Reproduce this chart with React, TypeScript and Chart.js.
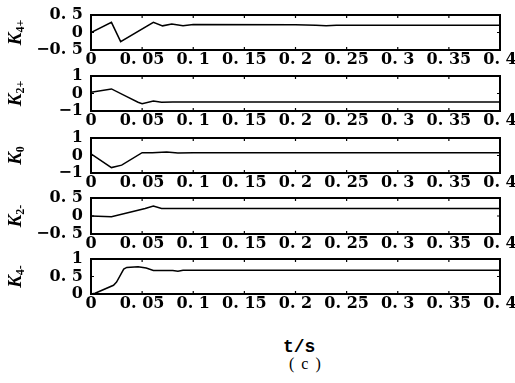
import React, { useEffect, useRef } from "react";
import { Chart, registerables } from "chart.js";

Chart.register(...registerables);

// ---- data ----
const xTickValues = [0, 0.05, 0.1, 0.15, 0.2, 0.25, 0.3, 0.35, 0.4];
const xTickLabels = ["0", "0. 05", "0. 1", "0. 15", "0. 2", "0. 25", "0. 3", "0. 35", "0. 4"];

const tK4p = [0, 0.02, 0.029, 0.061, 0.07, 0.079, 0.09, 0.1, 0.2, 0.22, 0.23, 0.24, 0.4];
const vK4p = [0.0, 0.29, -0.26, 0.29, 0.19, 0.24, 0.19, 0.23, 0.22, 0.21, 0.19, 0.21, 0.21];

const tK2p = [0, 0.02, 0.035, 0.046, 0.05, 0.061, 0.069, 0.08, 0.2, 0.4];
const vK2p = [0.07, 0.26, -0.18, -0.5, -0.58, -0.43, -0.5, -0.48, -0.48, -0.48];

const tK0 = [0, 0.02, 0.03, 0.05, 0.06, 0.074, 0.085, 0.1, 0.4];
const vK0 = [0.09, -0.69, -0.55, 0.16, 0.16, 0.2, 0.15, 0.16, 0.16];

const tK2m = [0, 0.02, 0.04, 0.053, 0.061, 0.069, 0.1, 0.4];
const vK2m = [0.0, -0.02, 0.12, 0.21, 0.28, 0.21, 0.21, 0.21];

const tK4m = [0, 0.004, 0.022, 0.025, 0.032, 0.035, 0.046, 0.054, 0.061, 0.08, 0.085, 0.09, 0.4];
const vK4m = [0, 0.02, 0.25, 0.34, 0.71, 0.76, 0.78, 0.74, 0.67, 0.67, 0.65, 0.68, 0.68];

const ticksHalf = [-0.5, 0, 0.5];
const labelsHalf = ["\u22120. 5", "0", "0. 5"];
const ticksOne = [-1, 0, 1];
const labelsOne = ["\u22121", "0", "1"];
const ticksPos = [0, 0.5, 1];
const labelsPos = ["0", "0. 5", "1"];

const panelTops = [15, 76, 138, 198, 259];
const panelHeights = [35, 35, 35, 36, 35];

type Panel = {
  sub: string;
  t: number[];
  v: number[];
  min: number;
  max: number;
  yt: number[];
  yl: string[];
};

const panels: Panel[] = [
  { sub: "4+", t: tK4p, v: vK4p, min: -0.5, max: 0.5, yt: ticksHalf, yl: labelsHalf },
  { sub: "2+", t: tK2p, v: vK2p, min: -1, max: 1, yt: ticksOne, yl: labelsOne },
  { sub: "0", t: tK0, v: vK0, min: -1, max: 1, yt: ticksOne, yl: labelsOne },
  { sub: "2-", t: tK2m, v: vK2m, min: -0.5, max: 0.5, yt: ticksHalf, yl: labelsHalf },
  { sub: "4-", t: tK4m, v: vK4m, min: 0, max: 1, yt: ticksPos, yl: labelsPos },
];

const PAD_TOP = 12;
const X_AXIS_H = 22;
const LEFT = 91;
const RIGHT_PAD = 15;
const W = 515;
const tickFont = { family: "'DejaVu Serif', 'Liberation Serif', serif", size: 16, weight: "bold" as const };

function PanelChart({ p, top, h }: { p: Panel; top: number; h: number }) {
  const ref = useRef<HTMLCanvasElement | null>(null);
  const H = PAD_TOP + h + X_AXIS_H;
  useEffect(() => {
    if (!ref.current) return;
    const framePlugin = {
      id: "frame",
      afterDraw(chart: any) {
        const { ctx, chartArea: a, scales } = chart;
        ctx.save();
        ctx.strokeStyle = "#000";
        ctx.lineWidth = 2;
        ctx.strokeRect(a.left, a.top, a.right - a.left, a.bottom - a.top);
        ctx.lineWidth = 1.2;
        ctx.beginPath();
        for (const tk of scales.x.ticks) {
          const px = scales.x.getPixelForValue(tk.value);
          ctx.moveTo(px, a.bottom);
          ctx.lineTo(px, a.bottom - 3);
          ctx.moveTo(px, a.top);
          ctx.lineTo(px, a.top + 3);
        }
        for (const tk of scales.y.ticks) {
          const py = scales.y.getPixelForValue(tk.value);
          ctx.moveTo(a.left, py);
          ctx.lineTo(a.left + 3, py);
          ctx.moveTo(a.right, py);
          ctx.lineTo(a.right - 3, py);
        }
        ctx.stroke();
        // y title: K with subscript, rotated
        const cy = (a.top + a.bottom) / 2;
        ctx.translate(21, cy);
        ctx.rotate(-Math.PI / 2);
        ctx.fillStyle = "#000";
        ctx.textBaseline = "alphabetic";
        ctx.textAlign = "left";
        const kFont = "italic bold 19px 'Liberation Serif', serif";
        const sFont = "bold 12px 'Liberation Serif', serif";
        ctx.font = kFont;
        const kw = ctx.measureText("K").width;
        ctx.font = sFont;
        const sw = ctx.measureText(p.sub).width;
        const start = -(kw + sw) / 2;
        ctx.font = kFont;
        ctx.fillText("K", start, 0);
        ctx.font = sFont;
        ctx.fillText(p.sub, start + kw, 3);
        ctx.restore();
      },
    };
    const chart = new Chart(ref.current, {
      type: "line",
      data: {
        datasets: [
          {
            data: p.t.map((t, i) => ({ x: t, y: p.v[i] })),
            borderColor: "#000",
            borderWidth: 1.5,
            pointRadius: 0,
            tension: 0,
            fill: false,
          },
        ],
      },
      options: {
        animation: false,
        responsive: false,
        events: [],
        layout: { padding: { top: PAD_TOP, right: RIGHT_PAD, left: 0, bottom: 0 } },
        plugins: { legend: { display: false }, tooltip: { enabled: false } },
        scales: {
          x: {
            type: "linear",
            min: 0,
            max: 0.4,
            grid: { display: false, drawTicks: false },
            border: { display: false },
            afterBuildTicks: (s: any) => {
              s.ticks = xTickValues.map((v) => ({ value: v }));
            },
            ticks: {
              autoSkip: false,
              maxRotation: 0,
              padding: 0,
              color: "#000",
              font: tickFont,
              callback: (_v: any, i: number) => xTickLabels[i],
            },
            afterFit: (s: any) => {
              s.height = X_AXIS_H;
              s.paddingLeft = 0;
              s.paddingRight = 0;
            },
          },
          y: {
            type: "linear",
            min: p.min,
            max: p.max,
            grid: { display: false, drawTicks: false },
            border: { display: false },
            afterBuildTicks: (s: any) => {
              s.ticks = p.yt.map((v) => ({ value: v }));
            },
            ticks: {
              autoSkip: false,
              padding: 8,
              color: "#000",
              font: tickFont,
              callback: (_v: any, i: number) => p.yl[i],
            },
            afterFit: (s: any) => {
              s.width = LEFT;
              s.paddingTop = 0;
              s.paddingBottom = 0;
            },
          },
        },
      } as any,
      plugins: [framePlugin],
    });
    return () => chart.destroy();
  }, [p, h]);
  return (
    <canvas
      ref={ref}
      width={W}
      height={H}
      style={{ position: "absolute", left: 0, top: top - PAD_TOP, width: W, height: H }}
    />
  );
}

export default function App() {
  return (
    <div
      style={{
        position: "fixed",
        left: 0,
        top: 0,
        width: W,
        height: 383,
        background: "#fff",
        overflow: "hidden",
      }}
    >
      {panels.map((p, i) => (
        <PanelChart key={i} p={p} top={panelTops[i]} h={panelHeights[i]} />
      ))}
      <div
        style={{
          position: "absolute",
          left: 283,
          top: 337,
          font: "bold 18px 'Liberation Mono', monospace",
          lineHeight: "20px",
          color: "#000",
        }}
      >
        t/s
      </div>
      <div
        style={{
          position: "absolute",
          left: 289,
          top: 354,
          font: "16px 'Liberation Serif', serif",
          letterSpacing: "1.5px",
          whiteSpace: "pre",
          lineHeight: "20px",
          color: "#000",
        }}
      >
        ( c )
      </div>
    </div>
  );
}
